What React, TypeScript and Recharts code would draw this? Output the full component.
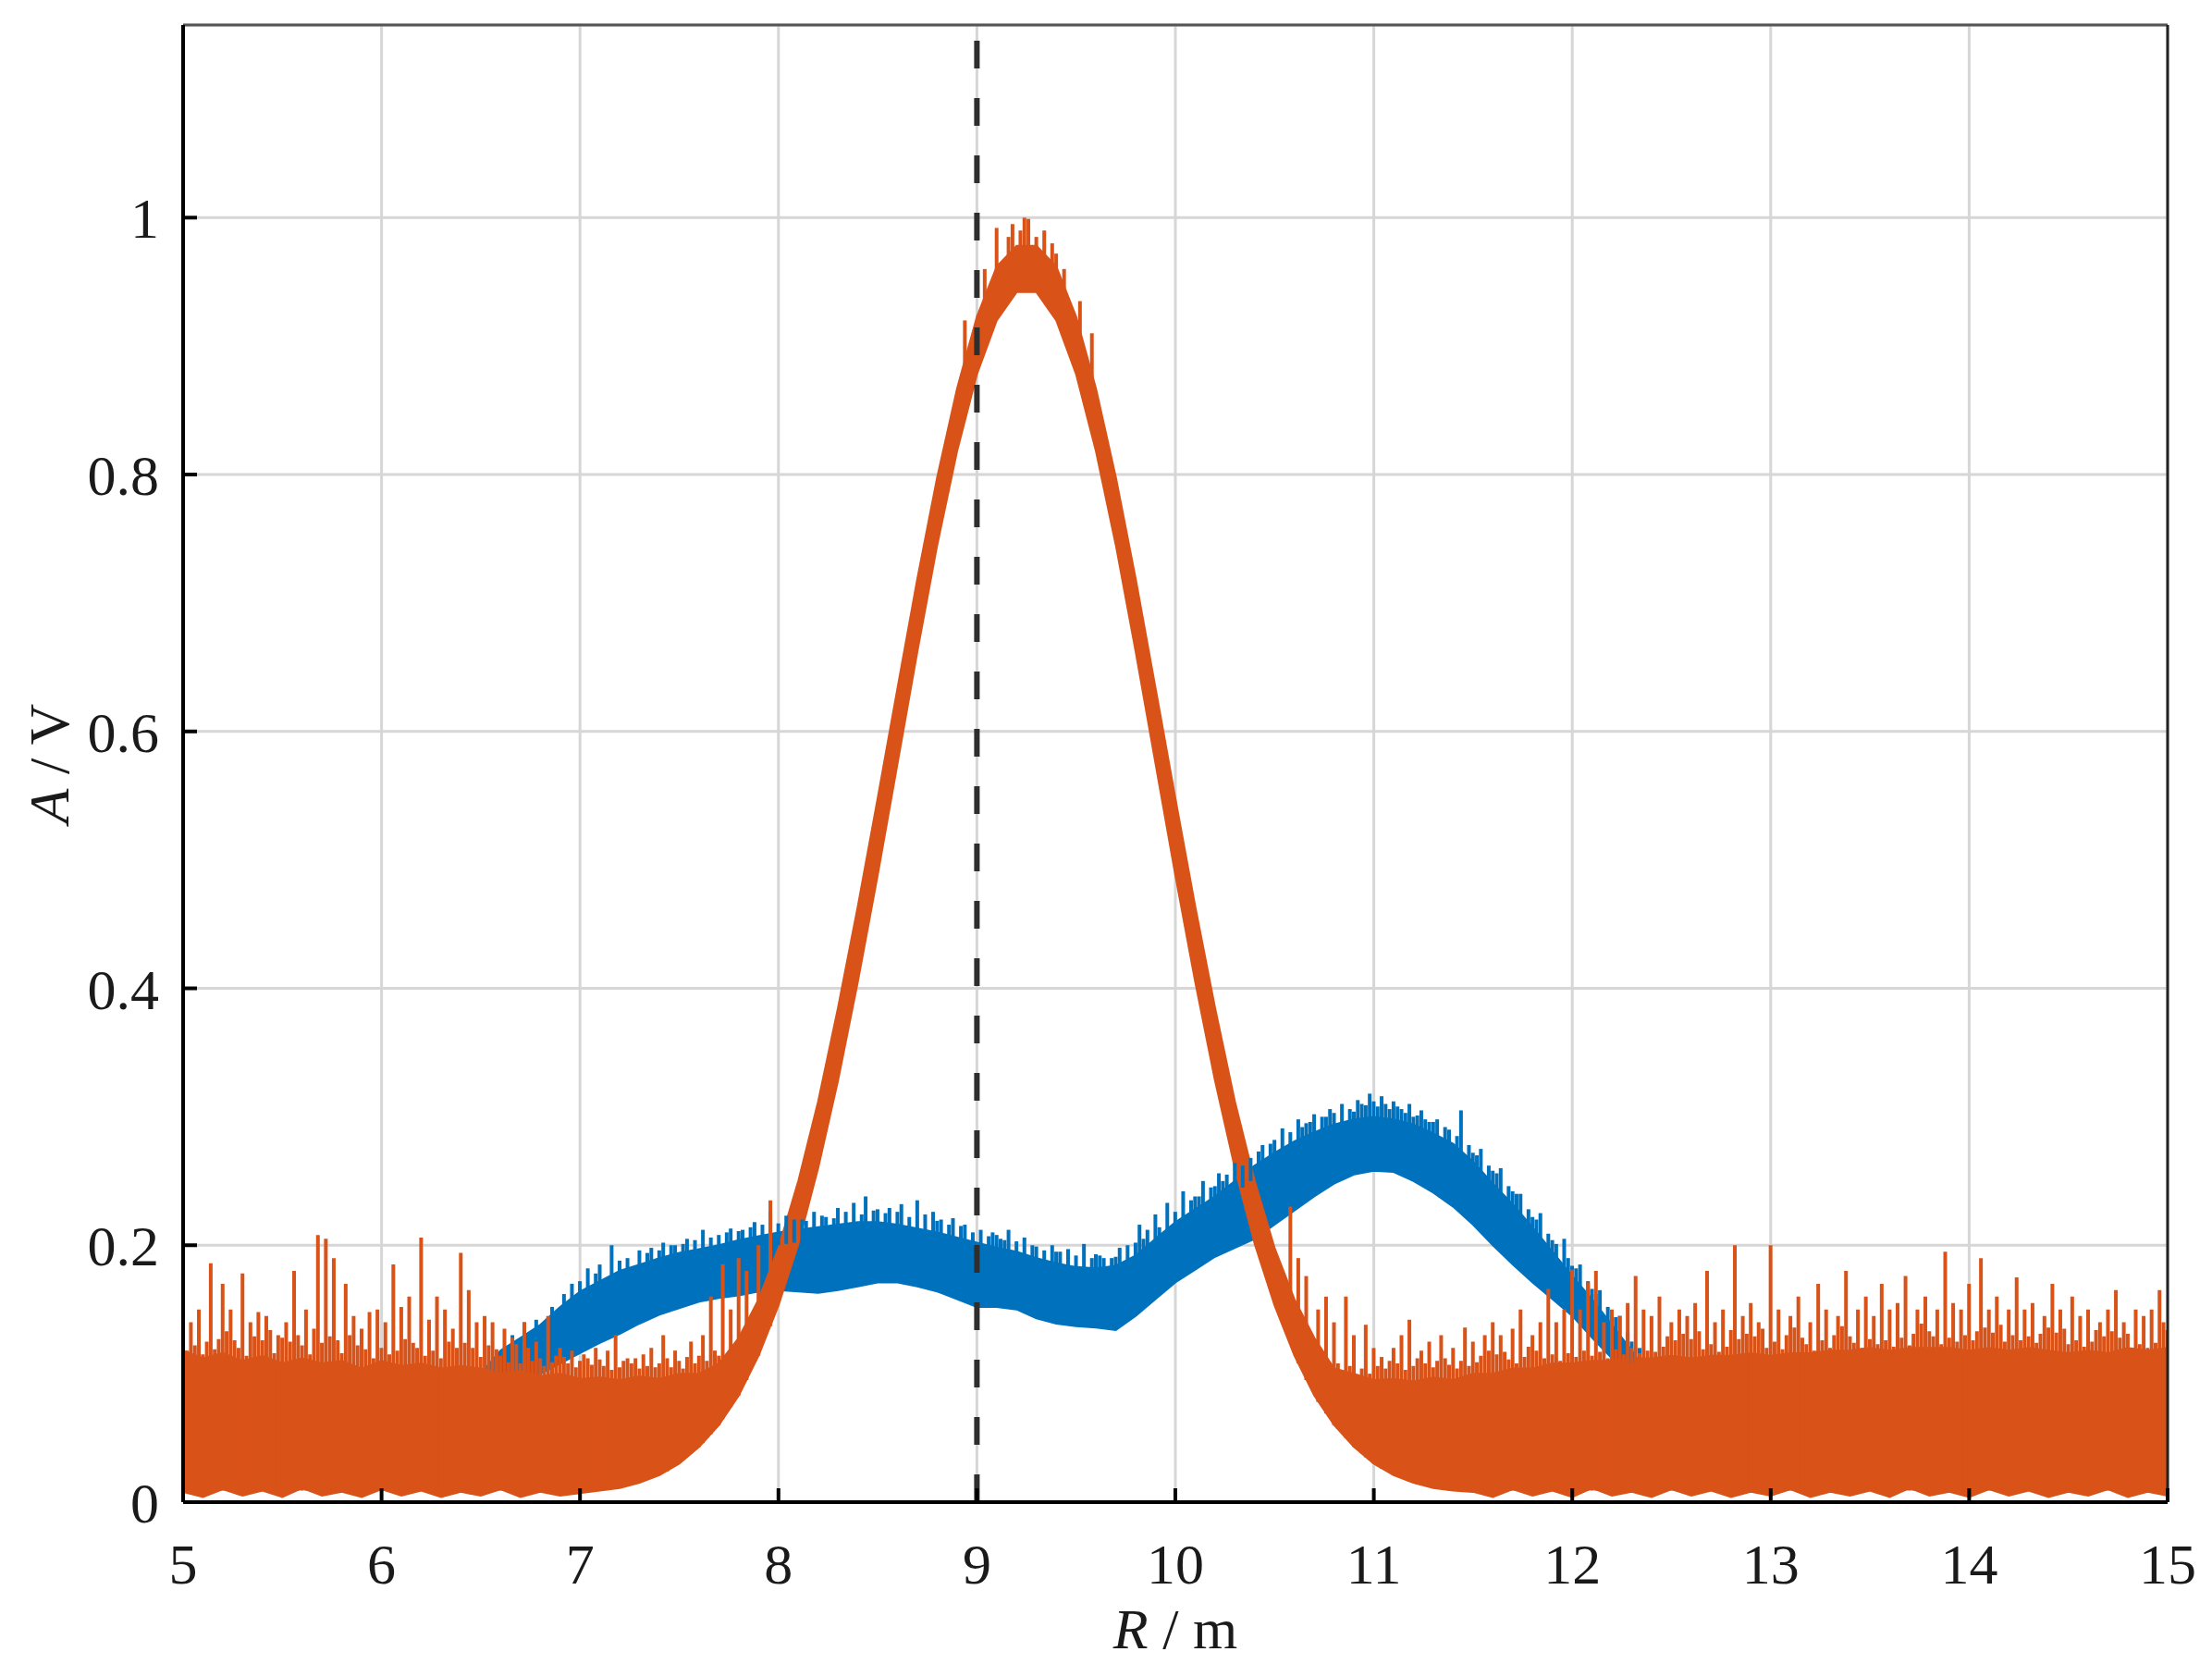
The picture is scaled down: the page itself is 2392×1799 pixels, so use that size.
import {
  ComposedChart,
  Area,
  Bar,
  XAxis,
  YAxis,
  CartesianGrid,
  ReferenceLine,
  Label,
} from "recharts";

// range R (m) on a 0.1 m grid, with the noisy orange trace as a low/high band
const radius = [
  5, 5.1, 5.2, 5.3, 5.4, 5.5, 5.6, 5.7, 5.8, 5.9,
  6, 6.1, 6.2, 6.3, 6.4, 6.5, 6.6, 6.7, 6.8, 6.9,
  7, 7.1, 7.2, 7.3, 7.4, 7.5, 7.6, 7.7, 7.8, 7.9,
  8, 8.1, 8.2, 8.3, 8.4, 8.5, 8.6, 8.7, 8.8, 8.9,
  9, 9.1, 9.2, 9.3, 9.4, 9.5, 9.6, 9.7, 9.8, 9.9,
  10, 10.1, 10.2, 10.3, 10.4, 10.5, 10.6, 10.7, 10.8, 10.9,
  11, 11.1, 11.2, 11.3, 11.4, 11.5, 11.6, 11.7, 11.8, 11.9,
  12, 12.1, 12.2, 12.3, 12.4, 12.5, 12.6, 12.7, 12.8, 12.9,
  13, 13.1, 13.2, 13.3, 13.4, 13.5, 13.6, 13.7, 13.8, 13.9,
  14, 14.1, 14.2, 14.3, 14.4, 14.5, 14.6, 14.7, 14.8, 14.9,
  15,
];

const orangeLow = [
  0.008, 0.004, 0.01, 0.005, 0.009, 0.004, 0.011, 0.005, 0.008, 0.004,
  0.01, 0.005, 0.009, 0.004, 0.008, 0.005, 0.01, 0.004, 0.008, 0.005,
  0.007, 0.009, 0.011, 0.015, 0.021, 0.03, 0.043, 0.06, 0.083, 0.114,
  0.153, 0.201, 0.26, 0.328, 0.405, 0.488, 0.575, 0.662, 0.745, 0.818,
  0.878, 0.92, 0.942, 0.942, 0.92, 0.878, 0.818, 0.745, 0.662, 0.575,
  0.488, 0.405, 0.328, 0.26, 0.201, 0.153, 0.114, 0.083, 0.06, 0.043,
  0.03, 0.021, 0.015, 0.011, 0.009, 0.008, 0.004, 0.01, 0.005, 0.009,
  0.004, 0.011, 0.005, 0.008, 0.004, 0.01, 0.005, 0.009, 0.004, 0.008,
  0.005, 0.01, 0.004, 0.008, 0.005, 0.009, 0.004, 0.011, 0.005, 0.008,
  0.004, 0.01, 0.005, 0.009, 0.004, 0.008, 0.005, 0.01, 0.004, 0.008,
  0.005,
];

const orangeHigh = [
  0.118, 0.112, 0.116, 0.11, 0.114, 0.108, 0.112, 0.108, 0.11, 0.104,
  0.11, 0.106, 0.108, 0.104, 0.106, 0.104, 0.1, 0.102, 0.098, 0.1,
  0.096, 0.097, 0.095, 0.098, 0.096, 0.1, 0.1, 0.108, 0.128, 0.158,
  0.198, 0.25, 0.312, 0.385, 0.464, 0.548, 0.634, 0.719, 0.798, 0.867,
  0.923, 0.962, 0.978, 0.978, 0.962, 0.923, 0.867, 0.798, 0.719, 0.634,
  0.548, 0.464, 0.385, 0.312, 0.25, 0.198, 0.158, 0.128, 0.104, 0.1,
  0.095, 0.096, 0.094, 0.097, 0.095, 0.1, 0.1, 0.104, 0.104, 0.108,
  0.108, 0.11, 0.11, 0.112, 0.112, 0.114, 0.112, 0.114, 0.114, 0.116,
  0.114, 0.116, 0.116, 0.118, 0.118, 0.12, 0.118, 0.12, 0.12, 0.12,
  0.118, 0.12, 0.118, 0.12, 0.118, 0.116, 0.118, 0.116, 0.12, 0.118,
  0.12,
];

// blue trace band
const blueRadius = [
  6.5, 6.6, 6.7, 6.8, 6.9,
  7, 7.1, 7.2, 7.3, 7.4, 7.5, 7.6, 7.7, 7.8, 7.9,
  8, 8.1, 8.2, 8.3, 8.4, 8.5, 8.6, 8.7, 8.8, 8.9,
  9, 9.1, 9.2, 9.3, 9.4, 9.5, 9.6, 9.7, 9.8, 9.9,
  10, 10.1, 10.2, 10.3, 10.4, 10.5, 10.6, 10.7, 10.8, 10.9,
  11, 11.1, 11.2, 11.3, 11.4, 11.5, 11.6, 11.7, 11.8, 11.9,
  12, 12.1, 12.2, 12.3, 12.4,
];

const blueLow = [
  0.075, 0.085, 0.092, 0.1, 0.108,
  0.116, 0.124, 0.131, 0.139, 0.146, 0.151, 0.156, 0.159, 0.161, 0.164,
  0.165, 0.164, 0.163, 0.165, 0.168, 0.171, 0.171, 0.168, 0.164, 0.158,
  0.152, 0.152, 0.15, 0.143, 0.139, 0.137, 0.136, 0.134, 0.145, 0.158,
  0.171, 0.181, 0.191, 0.198, 0.205, 0.216, 0.227, 0.238, 0.248, 0.255,
  0.258, 0.257, 0.25, 0.241, 0.23, 0.216, 0.2, 0.185, 0.171, 0.158,
  0.145, 0.128, 0.112, 0.095, 0.08,
];

const blueHigh = [
  0.1, 0.118, 0.128, 0.138, 0.152,
  0.164, 0.172, 0.18, 0.185, 0.19, 0.194, 0.197, 0.2, 0.204, 0.207,
  0.21, 0.212, 0.214, 0.216, 0.218, 0.218, 0.216, 0.213, 0.21, 0.206,
  0.202, 0.198, 0.195, 0.19, 0.186, 0.183, 0.182, 0.184, 0.192, 0.205,
  0.218, 0.228, 0.238, 0.25, 0.262, 0.272, 0.281, 0.288, 0.294, 0.298,
  0.3, 0.298, 0.294, 0.287, 0.279, 0.265, 0.248, 0.232, 0.214, 0.195,
  0.176, 0.158, 0.138, 0.118, 0.095,
];

// floor of the noise in the flat tails (V)
const noiseFloor = 0.009;

// dense noise of the orange trace in the flat tails, every 0.02 m
const grassLeftR = [
  5, 5.02, 5.04, 5.06, 5.08, 5.1, 5.12, 5.14, 5.16, 5.18,
  5.2, 5.22, 5.24, 5.26, 5.28, 5.3, 5.32, 5.34, 5.36, 5.38,
  5.4, 5.42, 5.44, 5.46, 5.48, 5.5, 5.52, 5.54, 5.56, 5.58,
  5.6, 5.62, 5.64, 5.66, 5.68, 5.7, 5.72, 5.74, 5.76, 5.78,
  5.8, 5.82, 5.84, 5.86, 5.88, 5.9, 5.92, 5.94, 5.96, 5.98,
  6, 6.02, 6.04, 6.06, 6.08, 6.1, 6.12, 6.14, 6.16, 6.18,
  6.2, 6.22, 6.24, 6.26, 6.28, 6.3, 6.32, 6.34, 6.36, 6.38,
  6.4, 6.42, 6.44, 6.46, 6.48, 6.5, 6.52, 6.54, 6.56, 6.58,
  6.6, 6.62, 6.64, 6.66, 6.68, 6.7, 6.72, 6.74, 6.76, 6.78,
  6.8, 6.82, 6.84, 6.86, 6.88, 6.9, 6.92, 6.94, 6.96, 6.98,
  7, 7.02, 7.04, 7.06, 7.08, 7.1,
];
const grassLeftTop = [
  0.132, 0.118, 0.128, 0.122, 0.136, 0.115, 0.125, 0.13, 0.119, 0.127,
  0.121, 0.133, 0.117, 0.126, 0.12, 0.131, 0.114, 0.124, 0.129, 0.118,
  0.126, 0.12, 0.134, 0.116, 0.123, 0.128, 0.113, 0.125, 0.119, 0.13,
  0.122, 0.127, 0.115, 0.132, 0.12, 0.124, 0.118, 0.129, 0.121, 0.126,
  0.116, 0.125, 0.13, 0.114, 0.122, 0.127, 0.119, 0.124, 0.112, 0.128,
  0.12, 0.126, 0.115, 0.13, 0.118, 0.123, 0.127, 0.113, 0.124, 0.12,
  0.128, 0.114, 0.122, 0.118, 0.126, 0.112, 0.121, 0.125, 0.115, 0.12,
  0.117, 0.124, 0.111, 0.12, 0.126, 0.113, 0.118, 0.122, 0.11, 0.119,
  0.114, 0.121, 0.109, 0.117, 0.123, 0.108, 0.115, 0.12, 0.11, 0.116,
  0.112, 0.106, 0.118, 0.109, 0.114, 0.104, 0.113, 0.108, 0.116, 0.105,
  0.11, 0.104, 0.112, 0.107, 0.102, 0.111,
];
const grassRightR = [
  11.4, 11.42, 11.44,
  11.46, 11.48, 11.5, 11.52, 11.54, 11.56, 11.58, 11.6, 11.62, 11.64,
  11.66, 11.68, 11.7, 11.72, 11.74, 11.76, 11.78, 11.8, 11.82, 11.84,
  11.86, 11.88, 11.9, 11.92, 11.94, 11.96, 11.98, 12, 12.02, 12.04,
  12.06, 12.08, 12.1, 12.12, 12.14, 12.16, 12.18, 12.2, 12.22, 12.24,
  12.26, 12.28, 12.3, 12.32, 12.34, 12.36, 12.38, 12.4, 12.42, 12.44,
  12.46, 12.48, 12.5, 12.52, 12.54, 12.56, 12.58, 12.6, 12.62, 12.64,
  12.66, 12.68, 12.7, 12.72, 12.74, 12.76, 12.78, 12.8, 12.82, 12.84,
  12.86, 12.88, 12.9, 12.92, 12.94, 12.96, 12.98, 13, 13.02, 13.04,
  13.06, 13.08, 13.1, 13.12, 13.14, 13.16, 13.18, 13.2, 13.22, 13.24,
  13.26, 13.28, 13.3, 13.32, 13.34, 13.36, 13.38, 13.4, 13.42, 13.44,
  13.46, 13.48, 13.5, 13.52, 13.54, 13.56, 13.58, 13.6, 13.62, 13.64,
  13.66, 13.68, 13.7, 13.72, 13.74, 13.76, 13.78, 13.8, 13.82, 13.84,
  13.86, 13.88, 13.9, 13.92, 13.94, 13.96, 13.98, 14, 14.02, 14.04,
  14.06, 14.08, 14.1, 14.12, 14.14, 14.16, 14.18, 14.2, 14.22, 14.24,
  14.26, 14.28, 14.3, 14.32, 14.34, 14.36, 14.38, 14.4, 14.42, 14.44,
  14.46, 14.48, 14.5, 14.52, 14.54, 14.56, 14.58, 14.6, 14.62, 14.64,
  14.66, 14.68, 14.7, 14.72, 14.74, 14.76, 14.78, 14.8, 14.82, 14.84,
  14.86, 14.88, 14.9, 14.92, 14.94, 14.96, 14.98, 15,
];
const grassRightTop = [
  0.115, 0.104, 0.11,
  0.113, 0.106, 0.116, 0.109, 0.114, 0.105, 0.118, 0.11, 0.115, 0.107,
  0.117, 0.111, 0.12, 0.108, 0.116, 0.113, 0.121, 0.109, 0.118, 0.114,
  0.112, 0.12, 0.115, 0.122, 0.11, 0.119, 0.116, 0.124, 0.113, 0.12,
  0.118, 0.125, 0.114, 0.121, 0.117, 0.126, 0.112, 0.122, 0.119, 0.127,
  0.115, 0.123, 0.12, 0.128, 0.116, 0.124, 0.118, 0.13, 0.117, 0.125,
  0.121, 0.129, 0.116, 0.126, 0.122, 0.131, 0.118, 0.127, 0.12, 0.133,
  0.119, 0.128, 0.123, 0.13, 0.117, 0.126, 0.121, 0.134, 0.12, 0.127,
  0.124, 0.131, 0.118, 0.129, 0.122, 0.135, 0.12, 0.128, 0.125, 0.132,
  0.119, 0.13, 0.124, 0.136, 0.121, 0.128, 0.123, 0.133, 0.118, 0.129,
  0.126, 0.134, 0.12, 0.13, 0.125, 0.137, 0.122, 0.129, 0.124, 0.135,
  0.12, 0.131, 0.127, 0.138, 0.123, 0.13, 0.126, 0.134, 0.121, 0.132,
  0.128, 0.136, 0.122, 0.131, 0.127, 0.139, 0.124, 0.133, 0.129, 0.135,
  0.123, 0.132, 0.128, 0.137, 0.125, 0.134, 0.13, 0.14, 0.126, 0.133,
  0.129, 0.136, 0.124, 0.132, 0.128, 0.138, 0.125, 0.134, 0.13, 0.137,
  0.126, 0.133, 0.129, 0.139, 0.124, 0.131, 0.127, 0.136, 0.122, 0.132,
  0.128, 0.135, 0.123, 0.13, 0.126, 0.137, 0.121, 0.131, 0.125, 0.134,
  0.12, 0.129, 0.124, 0.133, 0.118, 0.128, 0.122, 0.131, 0.119, 0.127,
  0.123, 0.13, 0.12, 0.128, 0.124, 0.132, 0.126, 0.134,
];

// noise where the orange floor starts to rise (base, top)
const rampR = [
  7.12, 7.14, 7.16, 7.18, 7.2, 7.22, 7.24, 7.26, 7.28, 7.3,
  7.32, 7.34, 7.36, 7.38, 7.4, 7.44, 7.46, 7.5, 7.52, 7.54,
  7.58, 7.6, 7.64, 7.68, 7.7,
  10.82, 10.84, 10.88, 10.92, 10.94, 10.98, 11.02, 11.06, 11.08, 11.1,
  11.12, 11.14, 11.16, 11.18, 11.2, 11.22, 11.24, 11.26, 11.28, 11.3,
  11.32, 11.34, 11.36, 11.38,
];
const rampBase = [
  0.01, 0.01, 0.011, 0.011, 0.012, 0.012, 0.013, 0.014, 0.015, 0.016,
  0.017, 0.018, 0.019, 0.02, 0.021, 0.024, 0.027, 0.031, 0.033, 0.036,
  0.041, 0.043, 0.05, 0.057, 0.06,
  0.057, 0.054, 0.047, 0.041, 0.038, 0.033, 0.028, 0.025, 0.023, 0.021,
  0.02, 0.019, 0.018, 0.016, 0.015, 0.014, 0.013, 0.013, 0.012, 0.011,
  0.011, 0.01, 0.01, 0.009,
];
const rampTop = [
  0.106, 0.113, 0.103, 0.109, 0.105, 0.11, 0.103, 0.108, 0.112, 0.104,
  0.109, 0.106, 0.111, 0.105, 0.108, 0.112, 0.105, 0.11, 0.104, 0.113,
  0.108, 0.114, 0.11, 0.118, 0.114,
  0.108, 0.1, 0.106, 0.098, 0.104, 0.1, 0.106, 0.104, 0.11, 0.101,
  0.108, 0.113, 0.103, 0.109, 0.106, 0.112, 0.102, 0.108, 0.114, 0.105,
  0.11, 0.103, 0.112, 0.107,
];

// taller orange spikes in the tails
const orangeSpikeR = [
  5.04, 5.08, 5.14, 5.2, 5.24, 5.3, 5.34, 5.38, 5.42, 5.48,
  5.52, 5.56, 5.62, 5.66, 5.68, 5.72, 5.76, 5.82, 5.86, 5.9,
  5.94, 5.98, 6.02, 6.06, 6.1, 6.14, 6.2, 6.24, 6.28, 6.32,
  6.36, 6.4, 6.44, 6.48, 6.52, 6.56, 6.62, 6.66, 6.72, 6.78,
  6.84, 6.9, 6.96, 7.02, 7.08,
  11.4, 11.46, 11.5, 11.56,
  11.6, 11.64, 11.7, 11.74, 11.8, 11.84, 11.88, 11.92, 11.96, 12,
  12.04, 12.08, 12.12, 12.16, 12.2, 12.24, 12.28, 12.32, 12.36, 12.4,
  12.44, 12.5, 12.54, 12.58, 12.62, 12.68, 12.72, 12.76, 12.82, 12.86,
  12.9, 12.94, 13, 13.04, 13.1, 13.14, 13.2, 13.24, 13.28, 13.34,
  13.38, 13.44, 13.48, 13.52, 13.56, 13.6, 13.64, 13.68, 13.74, 13.78,
  13.84, 13.88, 13.92, 13.96, 14, 14.06, 14.1, 14.14, 14.2, 14.24,
  14.28, 14.32, 14.38, 14.42, 14.46, 14.52, 14.56, 14.6, 14.66, 14.7,
  14.74, 14.78, 14.84, 14.88, 14.92, 14.96, 14.98,
];

const orangeSpikeTop = [
  0.14, 0.15, 0.186, 0.17, 0.15, 0.178, 0.14, 0.148, 0.145, 0.13,
  0.14, 0.18, 0.15, 0.135, 0.208, 0.205, 0.19, 0.17, 0.145, 0.135,
  0.148, 0.15, 0.14, 0.185, 0.152, 0.16, 0.206, 0.142, 0.16, 0.15,
  0.135, 0.194, 0.165, 0.14, 0.145, 0.14, 0.135, 0.128, 0.14, 0.125,
  0.145, 0.12, 0.118, 0.115, 0.12,
  0.12, 0.136, 0.125, 0.13,
  0.14, 0.13, 0.135, 0.15, 0.13, 0.14, 0.166, 0.14, 0.15, 0.181,
  0.15, 0.171, 0.18, 0.14, 0.15, 0.145, 0.155, 0.176, 0.15, 0.145,
  0.16, 0.14, 0.15, 0.145, 0.155, 0.18, 0.14, 0.15, 0.2, 0.145,
  0.155, 0.14, 0.2, 0.15, 0.145, 0.16, 0.14, 0.17, 0.15, 0.145,
  0.18, 0.15, 0.16, 0.145, 0.17, 0.15, 0.155, 0.176, 0.15, 0.16,
  0.15, 0.195, 0.155, 0.15, 0.17, 0.19, 0.15, 0.16, 0.15, 0.175,
  0.15, 0.155, 0.145, 0.17, 0.15, 0.16, 0.145, 0.15, 0.14, 0.15,
  0.165, 0.14, 0.15, 0.145, 0.15, 0.165, 0.14,
];

// orange spikes on the slopes and the peak (base, top)
const edgeSpikeR = [
  7.14, 7.18, 7.24, 7.32, 7.36, 7.42,
  7.48, 7.56, 7.62, 7.66, 7.72, 7.76, 7.8, 7.84, 7.9, 7.96,
  8.94, 9.04, 9.1, 9.16, 9.18, 9.22, 9.24, 9.26, 9.3, 9.34,
  9.38, 9.4, 9.44, 9.52, 9.58,
  10.58, 10.62, 10.66, 10.72, 10.76, 10.8, 10.86, 10.9, 10.96, 11,
  11.04, 11.1, 11.14, 11.18, 11.24, 11.28, 11.34,
];
const edgeSpikeBase = [
  0.01, 0.011, 0.013, 0.017, 0.019, 0.023,
  0.03, 0.038, 0.046, 0.053, 0.065, 0.074, 0.083, 0.095, 0.114, 0.137,
  0.88, 0.93, 0.95, 0.955, 0.96, 0.96, 0.96, 0.96, 0.96, 0.955,
  0.95, 0.94, 0.93, 0.9, 0.87,
  0.125, 0.108, 0.095, 0.078, 0.069, 0.06, 0.05, 0.043, 0.035, 0.03,
  0.026, 0.021, 0.019, 0.016, 0.013, 0.012, 0.01,
];
const edgeSpikeTop = [
  0.118, 0.13, 0.112, 0.115, 0.12, 0.13,
  0.118, 0.125, 0.13, 0.16, 0.185, 0.15, 0.19, 0.18, 0.2, 0.235,
  0.92, 0.96, 0.992, 0.985, 0.995, 0.99, 1.0, 0.999, 0.985, 0.99,
  0.98, 0.972, 0.96, 0.935, 0.91,
  0.23, 0.19, 0.176, 0.15, 0.16, 0.14, 0.16, 0.13, 0.138, 0.12,
  0.113, 0.12, 0.13, 0.142, 0.118, 0.125, 0.13,
];

// blue noise spikes (base, top)
const blueSpikeR = [
  6.72, 6.86, 6.96, 7.04, 7.1, 7.16, 7.3, 7.36, 7.42, 7.48,
  7.54, 7.62, 7.7, 7.76, 7.82, 7.88, 7.96, 8.04, 8.12, 8.18,
  8.24, 8.3, 8.38, 8.44, 8.5, 8.56, 8.62, 8.7, 8.78, 8.82,
  8.88, 8.94, 9.02, 9.08, 9.12, 9.16, 9.24, 9.3, 9.38, 9.42,
  9.46, 9.54, 9.6, 9.64, 9.68, 9.72, 9.76, 9.82, 9.86, 9.9,
  9.96, 10.04, 10.1, 10.14, 10.18, 10.22, 10.26, 10.3, 10.38, 10.44,
  10.5, 10.54, 10.62, 10.66, 10.7, 10.74, 10.78, 10.84, 10.92, 10.94,
  10.98, 11, 11.04, 11.06, 11.1, 11.14, 11.18, 11.2, 11.24, 11.28,
  11.32, 11.38, 11.44, 11.5, 11.54, 11.6, 11.64, 11.7, 11.74, 11.8,
  11.84, 11.9, 11.96, 12, 12.04, 12.1, 12.14, 12.2, 12.24, 12.3,
  12.34,
];
const blueSpikeBase = [
  0.118, 0.135, 0.148, 0.158, 0.163, 0.168, 0.175, 0.178, 0.181, 0.183,
  0.185, 0.188, 0.19, 0.192, 0.194, 0.196, 0.199, 0.201, 0.203, 0.204,
  0.205, 0.206, 0.208, 0.208, 0.208, 0.207, 0.206, 0.203, 0.201, 0.199,
  0.197, 0.194, 0.191, 0.189, 0.188, 0.187, 0.183, 0.181, 0.177, 0.176,
  0.174, 0.173, 0.172, 0.172, 0.173, 0.175, 0.18, 0.185, 0.19, 0.195,
  0.204, 0.213, 0.218, 0.223, 0.226, 0.23, 0.235, 0.24, 0.25, 0.257,
  0.262, 0.267, 0.272, 0.275, 0.278, 0.28, 0.283, 0.286, 0.289, 0.29,
  0.29, 0.29, 0.289, 0.289, 0.288, 0.287, 0.285, 0.283, 0.28, 0.278,
  0.276, 0.27, 0.262, 0.254, 0.246, 0.238, 0.23, 0.222, 0.213, 0.205,
  0.195, 0.186, 0.175, 0.166, 0.157, 0.148, 0.138, 0.128, 0.118, 0.108,
  0.097,
];
const blueSpikeTop = [
  0.14, 0.152, 0.17, 0.182, 0.185, 0.2, 0.196, 0.198, 0.202, 0.2,
  0.205, 0.212, 0.208, 0.213, 0.212, 0.218, 0.226, 0.223, 0.22, 0.226,
  0.222, 0.229, 0.233, 0.238, 0.228, 0.229, 0.232, 0.235, 0.226, 0.22,
  0.221, 0.216, 0.212, 0.21, 0.205, 0.212, 0.206, 0.199, 0.2, 0.195,
  0.197, 0.201, 0.193, 0.19, 0.19, 0.198, 0.2, 0.216, 0.212, 0.224,
  0.233, 0.242, 0.238, 0.25, 0.245, 0.256, 0.255, 0.264, 0.268, 0.278,
  0.282, 0.291, 0.298, 0.295, 0.302, 0.3, 0.306, 0.31, 0.313, 0.31,
  0.318, 0.312, 0.316, 0.31, 0.312, 0.306, 0.31, 0.3, 0.305, 0.296,
  0.298, 0.29, 0.305, 0.272, 0.275, 0.258, 0.26, 0.242, 0.24, 0.222,
  0.225, 0.204, 0.205, 0.184, 0.185, 0.166, 0.165, 0.146, 0.145, 0.125,
  0.12,
];

// shorter blue noise in between (base, top)
const blueGrassR = [
  6.66, 6.78, 6.92, 7, 7.08, 7.2, 7.24, 7.34, 7.4, 7.46,
  7.52, 7.58, 7.66, 7.74, 7.8, 7.86, 7.92, 8, 8.08, 8.14,
  8.22, 8.28, 8.34, 8.42, 8.48, 8.54, 8.6, 8.66, 8.74, 8.8,
  8.86, 8.92, 8.98, 9.06, 9.1, 9.14, 9.2, 9.28, 9.34, 9.4,
  9.5, 9.58, 9.62, 9.7, 9.8, 9.84, 9.92, 10, 10.08, 10.12,
  10.2, 10.24, 10.34, 10.42, 10.48, 10.58, 10.64, 10.68, 10.76, 10.8,
  10.88, 10.9, 10.96, 11.02, 11.08, 11.12, 11.16, 11.22, 11.26, 11.3,
  11.36, 11.42, 11.48, 11.52, 11.58, 11.62, 11.68, 11.72, 11.78, 11.82,
  11.88, 11.92, 11.98, 12.02, 12.08, 12.12, 12.18, 12.22, 12.28,
];
const blueGrassBase = [
  0.114, 0.126, 0.145, 0.154, 0.161, 0.17, 0.172, 0.177, 0.18, 0.182,
  0.184, 0.186, 0.189, 0.191, 0.194, 0.196, 0.198, 0.2, 0.202, 0.203,
  0.204, 0.205, 0.207, 0.208, 0.208, 0.207, 0.206, 0.204, 0.202, 0.2,
  0.197, 0.195, 0.192, 0.19, 0.188, 0.187, 0.185, 0.181, 0.179, 0.176,
  0.173, 0.172, 0.172, 0.174, 0.182, 0.186, 0.197, 0.208, 0.216, 0.22,
  0.228, 0.233, 0.245, 0.254, 0.26, 0.269, 0.274, 0.276, 0.281, 0.284,
  0.287, 0.288, 0.289, 0.29, 0.289, 0.287, 0.286, 0.282, 0.279, 0.277,
  0.272, 0.265, 0.257, 0.252, 0.243, 0.236, 0.227, 0.221, 0.21, 0.202,
  0.191, 0.183, 0.172, 0.164, 0.154, 0.146, 0.134, 0.126, 0.114,
];
const blueGrassTop = [
  0.13, 0.142, 0.162, 0.172, 0.178, 0.188, 0.19, 0.194, 0.196, 0.2,
  0.201, 0.204, 0.206, 0.21, 0.211, 0.214, 0.216, 0.217, 0.22, 0.219,
  0.223, 0.221, 0.226, 0.224, 0.227, 0.225, 0.226, 0.222, 0.224, 0.219,
  0.216, 0.215, 0.21, 0.207, 0.208, 0.204, 0.203, 0.2, 0.196, 0.195,
  0.192, 0.19, 0.192, 0.191, 0.202, 0.205, 0.214, 0.226, 0.235, 0.238,
  0.246, 0.25, 0.262, 0.273, 0.279, 0.288, 0.292, 0.296, 0.3, 0.303,
  0.306, 0.304, 0.309, 0.308, 0.306, 0.308, 0.303, 0.301, 0.298, 0.296,
  0.292, 0.285, 0.278, 0.27, 0.262, 0.256, 0.246, 0.24, 0.228, 0.22,
  0.209, 0.201, 0.19, 0.182, 0.172, 0.162, 0.152, 0.144, 0.132,
];

const xTicks = [5, 6, 7, 8, 9, 10, 11, 12, 13, 14, 15];
const yTicks = [0, 0.2, 0.4, 0.6, 0.8, 1];

const ORANGE = "#D95319";
const BLUE = "#0072BD";
const FONT = "'Liberation Serif', 'Times New Roman', Tinos, serif";
const INK = "#1a1a1a";

type Row = {
  r: number;
  orange?: [number, number];
  blue?: [number, number];
  oSpike?: [number, number];
  bSpike?: [number, number];
};

function buildRows(): Row[] {
  const map = new Map<string, Row>();
  const at = (r: number) => {
    const key = r.toFixed(2);
    let row = map.get(key);
    if (!row) {
      row = { r };
      map.set(key, row);
    }
    return row;
  };
  radius.forEach((r, i) => (at(r).orange = [orangeLow[i], orangeHigh[i]]));
  blueRadius.forEach((r, i) => (at(r).blue = [blueLow[i], blueHigh[i]]));
  grassLeftR.forEach((r, i) => (at(r).oSpike = [noiseFloor, grassLeftTop[i]]));
  grassRightR.forEach((r, i) => (at(r).oSpike = [noiseFloor, grassRightTop[i]]));
  rampR.forEach((r, i) => (at(r).oSpike = [rampBase[i], rampTop[i]]));
  orangeSpikeR.forEach((r, i) => (at(r).oSpike = [noiseFloor, orangeSpikeTop[i]]));
  edgeSpikeR.forEach((r, i) => (at(r).oSpike = [edgeSpikeBase[i], edgeSpikeTop[i]]));
  blueGrassR.forEach((r, i) => (at(r).bSpike = [blueGrassBase[i], blueGrassTop[i]]));
  blueSpikeR.forEach((r, i) => (at(r).bSpike = [blueSpikeBase[i], blueSpikeTop[i]]));
  return [...map.values()].sort((a, b) => a.r - b.r);
}

const rows = buildRows();

const tickStyle = { fill: INK, fontSize: 62, fontFamily: FONT };

const XTitle = ({ viewBox }: any) => (
  <text
    x={viewBox.x + viewBox.width / 2}
    y={viewBox.y + 158}
    textAnchor="middle"
    fontSize={62}
    style={{ fontFamily: FONT }}
    fill={INK}
  >
    <tspan fontStyle="italic">R</tspan>
    <tspan> / m</tspan>
  </text>
);

const YTitle = ({ viewBox }: any) => {
  const cx = viewBox.x + 66;
  const cy = viewBox.y + viewBox.height / 2;
  return (
    <text
      x={cx}
      y={cy}
      transform={`rotate(-90 ${cx} ${cy})`}
      textAnchor="middle"
      fontSize={62}
      style={{ fontFamily: FONT }}
      fill={INK}
    >
      <tspan fontStyle="italic">A</tspan>
      <tspan> / V</tspan>
    </text>
  );
};

export default function App() {
  return (
    <div style={{ width: 2384, height: 1791, background: "#fff", fontFamily: FONT }}>
      <ComposedChart
        width={2384}
        height={1791}
        data={rows}
        margin={{ top: 19, right: 48, bottom: 0, left: 0 }}
        barGap={0}
        style={{ fontFamily: FONT }}
      >
        <CartesianGrid stroke="#d6d6d6" strokeWidth={3} />
        <XAxis
          dataKey="r"
          type="number"
          domain={[5, 15]}
          ticks={xTicks}
          interval={0}
          allowDataOverflow
          height={175}
          tick={tickStyle}
          tickSize={-15}
          tickMargin={59}
          tickLine={{ stroke: "#000", strokeWidth: 4 }}
          axisLine={{ stroke: "#000", strokeWidth: 4 }}
        >
          <Label content={XTitle} />
        </XAxis>
        <XAxis xAxisId="ob" dataKey="r" type="number" domain={[5, 15]} allowDataOverflow hide />
        <XAxis xAxisId="bb" dataKey="r" type="number" domain={[5, 15]} allowDataOverflow hide />
        <YAxis
          type="number"
          domain={[0, 1.15]}
          ticks={yTicks}
          interval={0}
          allowDataOverflow
          width={190}
          tick={tickStyle}
          tickSize={-15}
          tickMargin={41}
          tickFormatter={(v: number) => String(v)}
          tickLine={{ stroke: "#000", strokeWidth: 4 }}
          axisLine={{ stroke: "#000", strokeWidth: 4 }}
        >
          <Label content={YTitle} />
        </YAxis>

        <Area
          dataKey="blue"
          type="linear"
          stroke={BLUE}
          strokeWidth={2}
          fill={BLUE}
          fillOpacity={1}
          connectNulls
          dot={false}
          activeDot={false}
          isAnimationActive={false}
        />
        <Bar
          dataKey="bSpike"
          xAxisId="bb"
          fill={BLUE}
          barSize={4}
          isAnimationActive={false}
        />
        <Area
          dataKey="orange"
          type="linear"
          stroke={ORANGE}
          strokeWidth={2}
          fill={ORANGE}
          fillOpacity={1}
          connectNulls
          dot={false}
          activeDot={false}
          isAnimationActive={false}
        />
        <Bar
          dataKey="oSpike"
          xAxisId="ob"
          fill={ORANGE}
          barSize={4}
          isAnimationActive={false}
        />

        <ReferenceLine x={9} stroke="#2e2e2e" strokeWidth={6} strokeDasharray="30 32" />
        <ReferenceLine y={1.15} stroke="#555" strokeWidth={3} />
        <ReferenceLine x={15} stroke="#222" strokeWidth={3} />
      </ComposedChart>
    </div>
  );
}
